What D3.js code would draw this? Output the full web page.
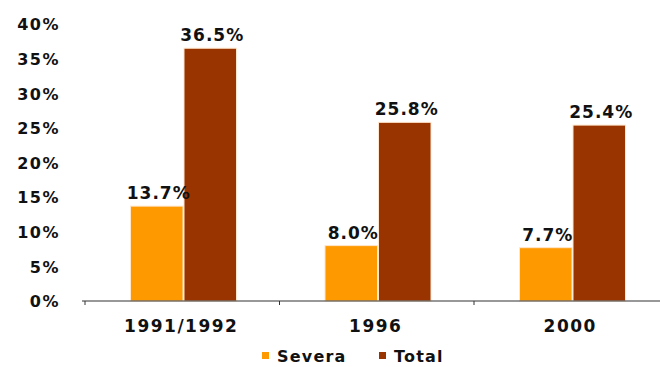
<!DOCTYPE html>
<html>
<head>
<meta charset="utf-8">
<script src="https://cdn.jsdelivr.net/npm/d3@7"></script>
<style>
  html, body { margin: 0; padding: 0; background: #fff; }
  svg { display: block; }
  text { font-family: "DejaVu Sans", Verdana, sans-serif; font-weight: bold; fill: #111; }
</style>
</head>
<body>
<svg id="chart" width="660" height="367"></svg>
<script>
// Data
const categories = ["1991/1992", "1996", "2000"];
const seriesNames = ["Severa", "Total"];
const severaValues = [13.7, 8.0, 7.7];
const totalValues = [36.5, 25.8, 25.4];
const yTicks = [0, 5, 10, 15, 20, 25, 30, 35, 40];
const seriesColors = ["#FF9900", "#993300"];

const svg = d3.select("#chart");

const x0 = d3.scaleBand().domain(categories).range([85, 668.5]).paddingInner(0).paddingOuter(0);
const x1 = d3.scaleBand().domain(seriesNames).range([45, 152]);
const y = d3.scaleLinear().domain([0, 40]).range([301, 24]);
const color = d3.scaleOrdinal().domain(seriesNames).range(seriesColors);

const rows = categories.map((c, i) => ({
  category: c,
  values: [
    { name: "Severa", value: severaValues[i] },
    { name: "Total", value: totalValues[i] }
  ]
}));

// Y axis labels (no axis line)
const yAxis = d3.axisLeft(y).tickValues(yTicks).tickFormat(d => d + "%").tickSize(0).tickPadding(0);
const yg = svg.append("g").attr("transform", "translate(60,0)").call(yAxis);
yg.select(".domain").remove();
yg.selectAll("text")
  .attr("font-family", "DejaVu Sans, sans-serif")
  .attr("font-weight", "bold")
  .attr("font-size", 16)
  .attr("letter-spacing", 1.5)
  .attr("fill", "#111")
  .attr("dy", "0.36em");

// Bars
const groups = svg.append("g").selectAll("g")
  .data(rows).join("g")
  .attr("transform", d => `translate(${x0(d.category)},0)`);

groups.selectAll("rect")
  .data(d => d.values).join("rect")
  .attr("x", d => x1(d.name) + 0.5)
  .attr("width", x1.bandwidth() - 1)
  .attr("y", d => y(d.value))
  .attr("height", d => y(0) - y(d.value))
  .attr("fill", d => color(d.name))
  .attr("stroke", "#ffe6cc")
  .attr("stroke-width", 1);

// Value labels
groups.selectAll("text.val")
  .data(d => d.values).join("text")
  .attr("class", "val")
  .attr("x", d => x1(d.name) + x1.bandwidth() / 2 + 2)
  .attr("y", d => y(d.value) - 7)
  .attr("text-anchor", "middle")
  .attr("font-size", 17)
  .attr("letter-spacing", 1)
  .text(d => d.value.toFixed(1) + "%");

// X axis
const xg = svg.append("g").attr("transform", "translate(0,301)");
xg.append("line")
  .attr("x1", 82).attr("x2", 660)
  .attr("y1", 0).attr("y2", 0)
  .attr("stroke", "#333").attr("stroke-width", 1.2);
xg.selectAll("line.tick")
  .data(categories).join("line")
  .attr("class", "tick")
  .attr("x1", d => x0(d)).attr("x2", d => x0(d))
  .attr("y1", 0).attr("y2", 4)
  .attr("stroke", "#333");
xg.selectAll("text.cat")
  .data(categories).join("text")
  .attr("class", "cat")
  .attr("x", d => x0(d) + x0.bandwidth() / 2 - 1)
  .attr("y", 31)
  .attr("text-anchor", "middle")
  .attr("font-size", 17)
  .attr("letter-spacing", 1.5)
  .text(d => d);

// Legend
const legendX = [262, 379];
const legend = svg.append("g").selectAll("g")
  .data(seriesNames).join("g")
  .attr("transform", (d, i) => `translate(${legendX[i]},0)`);
legend.append("rect")
  .attr("x", 0).attr("y", 352)
  .attr("width", 7).attr("height", 7)
  .attr("fill", d => color(d));
legend.append("text")
  .attr("x", 15).attr("y", 362)
  .attr("font-size", 16)
  .attr("letter-spacing", 1.2)
  .text(d => d);
</script>
</body>
</html>
